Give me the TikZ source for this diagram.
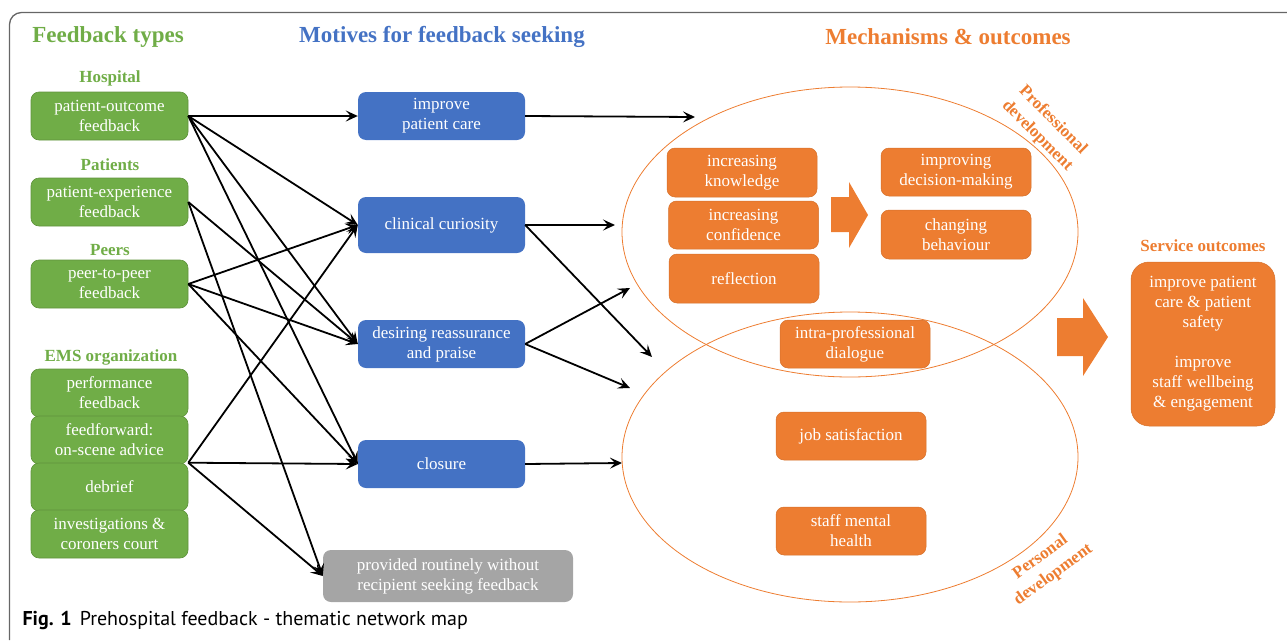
\documentclass[tikz,border=0pt]{standalone}
\usepackage{fontspec}
\setmainfont{Liberation Serif}
\newfontfamily\capfont{PT Sans}
\usetikzlibrary{arrows.meta}
\definecolor{fbgreen}{HTML}{70AD47}
\definecolor{fbblue}{HTML}{4472C4}
\definecolor{fborange}{HTML}{ED7D31}
\definecolor{fbgray}{HTML}{A5A5A5}
\tikzset{
  fbbox/.style={rounded corners=8pt, text=white, align=center, inner sep=0pt,
    font=\fontsize{17}{20}\selectfont},
  greenbox/.style={fbbox, fill=fbgreen, draw=fbgreen!85!black, line width=.6pt,
    minimum width=157pt, minimum height=48pt},
  bluebox/.style={fbbox, fill=fbblue, minimum width=167pt, minimum height=48pt},
  orangebox/.style={fbbox, fill=fborange, draw=fborange!90!black, line width=.5pt,
    minimum width=150pt, minimum height=48pt},
  arr/.style={-{Stealth[length=12pt,width=11pt,inset=5pt]}, line width=1.8pt},
  headtext/.style={font=\fontsize{23}{27}\selectfont\bfseries},
  grouphead/.style={font=\fontsize{17}{19}\selectfont\bfseries, text=fbgreen},
  devlabel/.style={font=\fontsize{17}{22}\selectfont\bfseries, text=fborange, align=center},
}
\begin{document}
\begin{tikzpicture}[x=1pt,y=-1pt]
   \useasboundingbox (0,0) rectangle (1287,640);
   \draw[black!60, line width=1.3pt, rounded corners=12pt] (9.5,640) -- (9.5,12.5) -- (1287,12.5);
   \node[headtext, text=fbgreen] (ttypes) at (108,37) {Feedback types};
   \node[headtext, text=fbblue] (tmotives) at (442,37) {Motives for feedback seeking};
   \node[headtext, text=fborange] (tmech) at (948,37) {Mechanisms \& outcomes};

   \node[grouphead] (ghosp) at (110,78) {Hospital};
   \node[grouphead] (gpat) at (110,165) {Patients};
   \node[grouphead] (gpeer) at (110,250) {Peers};
   \node[grouphead] (gems) at (111,357) {EMS organization};
   \node[greenbox] (outcome) at (109.5,116) {patient-outcome\\feedback};
   \node[greenbox] (experience) at (109.5,202) {patient-experience\\feedback};
   \node[greenbox] (peer) at (109.5,284) {peer-to-peer\\feedback};
   \node[greenbox] (perf) at (109.5,393) {performance\\feedback};
   \node[greenbox] (feedfwd) at (109.5,440) {feedforward:\\on-scene advice};
   \node[greenbox] (debrief) at (109.5,487) {debrief};
   \node[greenbox] (invest) at (109.5,534) {investigations \&\\coroners court};
   \coordinate (ems) at (debrief.north east);

   \node[bluebox] (care) at (441.5,116) {improve\\patient care};
   \node[bluebox, minimum height=56pt] (curious) at (441.5,225) {clinical curiosity};
   \node[bluebox] (reassure) at (441.5,344) {desiring reassurance\\and praise};
   \node[bluebox] (closure) at (441.5,464) {closure};
   \node[fbbox, fill=fbgray, minimum width=250pt, minimum height=52pt] (routine) at (448,576)
      {provided routinely without\\recipient seeking feedback};

   \draw[arr] (outcome.east) -- (care.west);
   \draw[arr] (outcome.east) -- (curious.west);
   \draw[arr] (outcome.east) -- (reassure.west);
   \draw[arr] (outcome.east) -- (closure.west);
   \draw[arr] (experience.east) -- (reassure.west);
   \draw[arr] (experience.east) -- (routine.west);
   \draw[arr] (peer.east) -- (curious.west);
   \draw[arr] (peer.east) -- (reassure.west);
   \draw[arr] (peer.east) -- (closure.west);
   \draw[arr] (ems) -- (curious.west);
   \draw[arr] (ems) -- (closure.west);
   \draw[arr] (ems) -- (routine.west);

   \draw[fborange, line width=.8pt] (850,232) ellipse [x radius=228pt, y radius=145pt];
   \draw[fborange, line width=.8pt] (850,457) ellipse [x radius=228pt, y radius=145pt];
   \node[devlabel, rotate=-45] (profdev) at (1045,128) {Professional\\development};
   \node[devlabel, rotate=36] (persdev) at (1047,566) {Personal\\development};

   \coordinate (pd1) at (695,117);
   \coordinate (pd2) at (615,225);
   \coordinate (pd3) at (652,357);
   \coordinate (pd4) at (630,288);
   \coordinate (pd5) at (630,388);
   \coordinate (pd6) at (622,463);
   \draw[arr] (care.east) -- (pd1);
   \draw[arr] (curious.east) -- (pd2);
   \draw[arr] (curious.east) -- (pd3);
   \draw[arr] (reassure.east) -- (pd4);
   \draw[arr] (reassure.east) -- (pd5);
   \draw[arr] (closure.east) -- (pd6);

   \node[orangebox, minimum height=49pt] (know) at (742,172.5) {increasing\\knowledge};
   \node[orangebox] (confid) at (743.5,225) {increasing\\confidence};
   \node[orangebox, minimum height=49pt] (reflect) at (744,278.5) {reflection};
   \node[orangebox] (decide) at (956,172) {improving\\decision-making};
   \node[orangebox, minimum height=49pt] (behave) at (956,234.5) {changing\\behaviour};
   \node[orangebox] (dialogue) at (855,344) {intra-professional\\dialogue};
   \node[orangebox] (jobsat) at (851,436) {job satisfaction};
   \node[orangebox] (mental) at (851,531) {staff mental\\health};
   \fill[fborange] (831,197) -- (849,197) -- (849,182) -- (868,215) -- (849,248) -- (849,232) -- (831,232) -- cycle;
   \fill[fborange] (1057,318) -- (1083,318) -- (1083,298) -- (1108,337) -- (1083,376) -- (1083,356) -- (1057,356) -- cycle;

   \node[font=\fontsize{17}{19}\selectfont\bfseries, text=fborange] (sohead) at (1203,246) {Service outcomes};
   \node[fbbox, rounded corners=18pt, fill=fborange, draw=fborange!90!black, line width=.5pt,
      minimum width=144pt, minimum height=164pt] (service) at (1203,344)
      {improve patient\\care \& patient\\safety\\[20pt]improve\\staff wellbeing\\\& engagement};

   \node[anchor=west, font=\capfont\fontsize{20}{24}\selectfont] (caption) at (19,620)
      {\textbf{Fig. 1}\hspace{8pt}Prehospital feedback - thematic network map};
\end{tikzpicture}
\end{document}
